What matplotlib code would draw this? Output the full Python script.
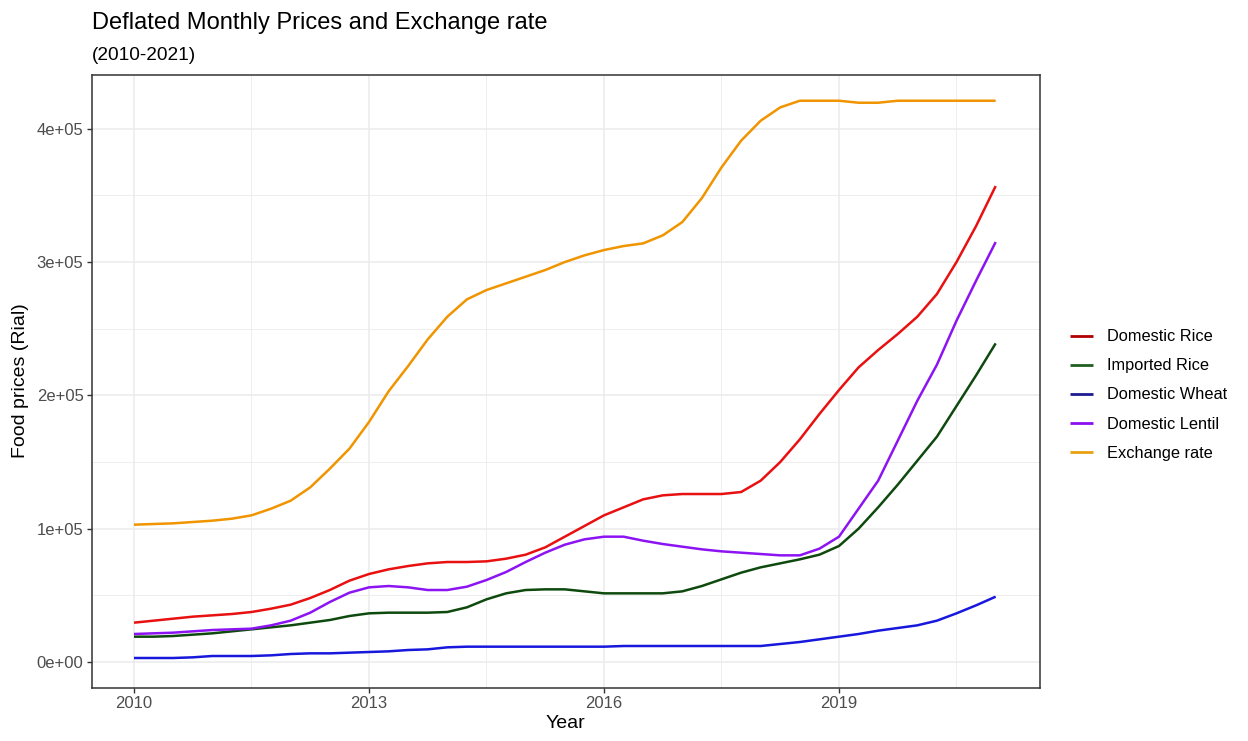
import numpy as np
import matplotlib
matplotlib.use("Agg")
import matplotlib.pyplot as plt
from matplotlib.ticker import FixedLocator

plt.rcParams['font.family'] = ['Liberation Sans', 'DejaVu Sans']

# quarterly time points 2010.00 ... 2021.00
years = [2010 + 0.25 * i for i in range(45)]

# values in thousands of Rial
exchange_rate = [103, 103.5, 104, 105, 106, 107.5, 110, 115, 121, 131, 145, 160,
                 180, 203, 222, 242, 259, 272, 279, 284, 289, 294, 300, 305,
                 309, 312, 314, 320, 330, 348, 371, 391, 406, 416, 421, 421,
                 421, 419.5, 419.5, 421, 421, 421, 421, 421, 421]
domestic_rice = [29.5, 31, 32.5, 34, 35, 36, 37.5, 40, 43, 48, 54, 61,
                 66, 69.5, 72, 74, 75, 75, 75.5, 77.5, 80.5, 86, 94, 102,
                 110, 116, 122, 125, 126, 126, 126, 127.5, 136, 150, 167, 186,
                 204, 221, 234, 246, 259, 276, 300, 327, 357]
imported_rice = [19, 19, 19.5, 20.5, 21.5, 23, 24.5, 26, 27.5, 29.5, 31.5, 34.5,
                 36.5, 37, 37, 37, 37.5, 41, 47, 51.5, 54, 54.5, 54.5, 53,
                 51.5, 51.5, 51.5, 51.5, 53, 57, 62, 67, 71, 74, 77, 80.5,
                 87, 100, 116, 133, 151, 169, 192, 215, 239]
domestic_wheat = [3, 3, 3, 3.5, 4.5, 4.5, 4.5, 5, 6, 6.5, 6.5, 7,
                  7.5, 8, 9, 9.5, 11, 11.5, 11.5, 11.5, 11.5, 11.5, 11.5, 11.5,
                  11.5, 12, 12, 12, 12, 12, 12, 12, 12, 13.5, 15, 17,
                  19, 21, 23.5, 25.5, 27.5, 31, 36.5, 42.5, 49]
domestic_lentil = [21, 21.5, 22, 23, 24, 24.5, 25, 27.5, 31, 37, 45, 52,
                   56, 57, 56, 54, 54, 56.5, 61.5, 67.5, 75, 82, 88, 92,
                   94, 94, 91, 88.5, 86.5, 84.5, 83, 82, 81, 80, 80, 85,
                   94, 115, 136, 166, 196, 223, 256, 286, 315]

series_names = ["Domestic Rice", "Imported Rice", "Domestic Wheat",
                "Domestic Lentil", "Exchange rate"]
series_values = [domestic_rice, imported_rice, domestic_wheat,
                 domestic_lentil, exchange_rate]
line_colors = ["#e81010", "#0e4a0e", "#1818dd", "#8c14f2", "#f09400"]
legend_colors = ["#b00000", "#1f5f1f", "#1c1c90", "#8a10f0", "#e8a010"]

x_ticks = [2010, 2013, 2016, 2019]
y_ticks = [0, 1e5, 2e5, 3e5, 4e5]
y_tick_labels = ["0e+00", "1e+05", "2e+05", "3e+05", "4e+05"]

W, H = 1248, 741
fig = plt.figure(figsize=(W / 100, H / 100), dpi=100)
ax = fig.add_axes([92 / W, 1 - 688 / H, (1040 - 92) / W, (688 - 75) / H])

lines = []
for name, vals, col in zip(series_names, series_values, line_colors):
    ln, = ax.plot(years, np.array(vals) * 1000, color=col, lw=1.8,
                  label=name, solid_capstyle='butt', zorder=3)
    lines.append(ln)

ax.set_xlim(2009.464, 2021.566)
ax.set_ylim(-0.195e5, 4.403e5)

ax.xaxis.set_major_locator(FixedLocator(x_ticks))
ax.xaxis.set_minor_locator(FixedLocator([2011.5, 2014.5, 2017.5, 2020.5]))
ax.yaxis.set_major_locator(FixedLocator(y_ticks))
ax.yaxis.set_minor_locator(FixedLocator([0.5e5, 1.5e5, 2.5e5, 3.5e5]))
ax.set_xticklabels([str(t) for t in x_ticks])
ax.set_yticklabels(y_tick_labels)

ax.grid(which='major', color='#ebebeb', lw=1.1, zorder=0)
ax.grid(which='minor', color='#ebebeb', lw=0.6, zorder=0)
ax.set_axisbelow(True)
for sp in ax.spines.values():
    sp.set_color('#333333')
    sp.set_linewidth(1.1)

ax.tick_params(which='major', length=3.6, width=1.0, color='#333333',
               labelsize=12, labelcolor='#4d4d4d', pad=2.5)
ax.tick_params(which='minor', length=0)

fig.text(565 / W, 1 - 724 / H, "Year", fontsize=14, ha='center',
         va='center', color='black')
fig.text(21 / W, 1 - 381 / H, "Food prices (Rial)", fontsize=14,
         ha='center', va='center', rotation=90, color='black')

fig.text(92 / W, 1 - 23 / H, "Deflated Monthly Prices and Exchange rate",
         fontsize=17, ha='left', va='center', color='black')
fig.text(92 / W, 1 - 56 / H, "(2010-2021)", fontsize=13.7, ha='left',
         va='center', color='black')

leg = fig.legend(handles=lines, loc='center left',
                 bbox_to_anchor=(1055 / W, 1 - 395 / H), frameon=False,
                 fontsize=11.8, handlelength=1.4, handletextpad=0.85,
                 labelspacing=0.86)
for h, c in zip(leg.legend_handles, legend_colors):
    h.set_color(c)
    h.set_linewidth(2.0)

fig.savefig("out.png", dpi=100)
